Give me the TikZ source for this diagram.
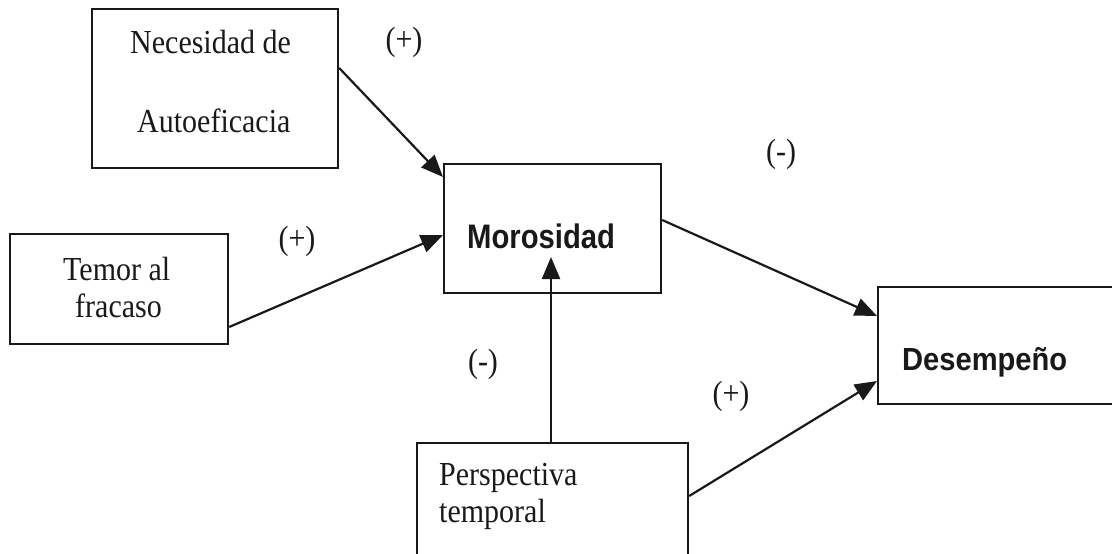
\documentclass[tikz,border=0pt]{standalone}
\usepackage{fontspec}
\usepackage{graphicx}
\setmainfont{Liberation Serif}
\newfontfamily\boldsans{Liberation Sans}
\usetikzlibrary{arrows.meta}
\definecolor{ink}{RGB}{25,25,25}
\newcommand{\tall}[1]{\scalebox{1}[1.12]{#1}}
\tikzset{
  box/.style={draw=ink, line width=2.2pt, anchor=north west, inner sep=0pt},
  txt/.style={anchor=base west, inner sep=0pt, text=ink, font=\fontsize{30}{36}\selectfont},
  sign/.style={anchor=center, inner sep=0pt, text=ink, font=\fontsize{30}{36}\selectfont},
  conn/.style={draw=ink, line width=2.2pt, -{Triangle[length=22pt,width=18pt]}}
}
\begin{document}
\begin{tikzpicture}[x=1pt,y=-1pt]
\useasboundingbox (0,0) rectangle (1112,554);
\clip (0,0) rectangle (1112,554);
% boxes
\node[box, minimum width=246pt, minimum height=159pt] (nec) at (91,8) {};
\node[box, minimum width=218pt, minimum height=110pt] (tem) at (9,233) {};
\node[box, minimum width=217pt, minimum height=129pt] (mor) at (443,163) {};
\node[box, minimum width=260pt, minimum height=117pt] (des) at (877,286) {};
\node[box, minimum width=271pt, minimum height=140pt] (per) at (416,442) {};
% texts
\node[txt] (t1) at (130,53) {\tall{Necesidad de}};
\node[txt] (t2) at (137,132) {\tall{Autoeficacia}};
\node[txt] (t3) at (63,280) {\tall{Temor al}};
\node[txt] (t4) at (75,317) {\tall{fracaso}};
\node[txt] (t5) at (439,485) {\tall{Perspectiva}};
\node[txt] (t6) at (439,522) {\tall{temporal}};
\node[anchor=base west, inner sep=0pt, text=ink] (t7) at (467,248) {\scalebox{0.86}[1]{\boldsans\bfseries\fontsize{34}{40}\selectfont Morosidad}};
\node[anchor=base west, inner sep=0pt, text=ink] (t8) at (902,370) {\scalebox{0.91}[1]{\boldsans\bfseries\fontsize{32}{38}\selectfont Desempeño}};
% signs
\node[sign] (s1) at (404,42) {\tall{(+)}};
\node[sign] (s2) at (297,241) {\tall{(+)}};
\node[sign] (s3) at (781,154) {\tall{(-)}};
\node[sign] (s4) at (483,364) {\tall{(-)}};
\node[sign] (s5) at (731,396) {\tall{(+)}};
% connectors
\coordinate (a1) at (nec.east |- 0,68);
\coordinate (b1) at (mor.west |- 0,177);
\draw[conn] (a1) -- (b1);
\coordinate (a2) at (tem.east |- 0,327);
\coordinate (b2) at (mor.west |- 0,235);
\draw[conn] (a2) -- (b2);
\coordinate (a3) at (mor.east |- 0,220);
\coordinate (b3) at (des.west |- 0,316);
\draw[conn] (a3) -- (b3);
\coordinate (a4) at (per.east |- 0,496);
\coordinate (b4) at (des.west |- 0,381);
\draw[conn] (a4) -- (b4);
\coordinate (a5) at (551,0 |- per.north);
\coordinate (b5) at (551,257);
\draw[conn] (a5) -- (b5);
\end{tikzpicture}
\end{document}
